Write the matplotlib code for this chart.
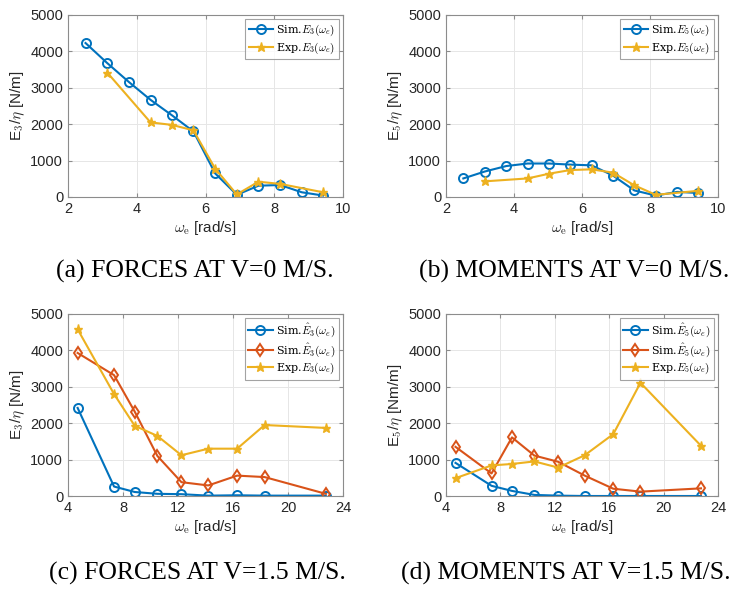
import numpy as np
import matplotlib
matplotlib.use('Agg')
import matplotlib.pyplot as plt

# MATLAB default colours
BLUE = '#0072BD'
RED = '#D95319'
YELLOW = '#EDB120'

# (a) forces, V=0
w_sim_0 = [2.51, 3.14, 3.77, 4.40, 5.03, 5.65, 6.28, 6.91, 7.54, 8.17, 8.80, 9.42]
e3_sim_0 = [4230, 3680, 3160, 2670, 2240, 1800, 650, 60, 310, 330, 130, 40]
w_exp_0 = [3.14, 4.40, 5.03, 5.65, 6.28, 6.91, 7.54, 8.17, 9.42]
e3_exp_0 = [3420, 2050, 1980, 1830, 780, 70, 420, 360, 130]

# (b) moments, V=0
e5_sim_0 = [510, 700, 850, 920, 920, 890, 870, 590, 180, 40, 140, 110]
e5_exp_0 = [430, 510, 640, 740, 760, 670, 320, 60, 170]

# (c) forces, V=1.5
w_15 = [4.7, 7.35, 8.85, 10.5, 12.25, 14.2, 16.3, 18.3, 22.75]
e3_hat_15 = [2420, 260, 110, 60, 50, 10, 20, 10, 10]
e3_tld_15 = [3930, 3320, 2320, 1100, 380, 290, 560, 520, 60]
e3_exp_15 = [4580, 2800, 1930, 1650, 1120, 1300, 1300, 1950, 1870]

# (d) moments, V=1.5
e5_hat_15 = [910, 280, 140, 30, 10, 0, 0, 0, 0]
e5_tld_15 = [1350, 620, 1610, 1110, 940, 560, 200, 120, 210]
e5_exp_15 = [490, 840, 880, 950, 780, 1120, 1700, 3110, 1380]

plt.rcParams['font.family'] = ['Liberation Sans', 'DejaVu Sans']
plt.rcParams['mathtext.fontset'] = 'cm'

fig = plt.figure(figsize=(7.41, 5.90), dpi=100)
W, H = 741.0, 590.0

def make_ax(x0, x1, y0, y1):
    # pixel box -> figure fraction
    return fig.add_axes([x0 / W, 1 - y1 / H, (x1 - x0) / W, (y1 - y0) / H])

def style(ax, xlim, xticks, ylabel):
    ax.set_xlim(*xlim)
    ax.set_ylim(0, 5000)
    ax.set_xticks(xticks)
    ax.set_yticks([0, 1000, 2000, 3000, 4000, 5000])
    ax.grid(True, color='#e6e6e6', linewidth=0.7)
    ax.set_axisbelow(True)
    for s in ax.spines.values():
        s.set_color('#8c8c8c')
        s.set_linewidth(0.8)
    ax.tick_params(labelsize=10.5, colors='#8c8c8c', labelcolor='#262626',
                   length=3, direction='in', top=True, right=True)
    ax.set_xlabel(r'$\omega_{\rm e}$ [rad/s]', fontsize=11, color='#262626', labelpad=2)
    ax.set_ylabel(ylabel, fontsize=11, color='#262626', labelpad=2)

def sim(ax, x, y, c, m, lab):
    ax.plot(x, y, '-', color=c, marker=m, markersize=6.5, markerfacecolor='none',
            markeredgewidth=1.4, linewidth=1.5, label=lab)

def exp(ax, x, y, lab):
    ax.plot(x, y, '-', color=YELLOW, marker='*', markersize=6.5, linewidth=1.5, label=lab)

def legend(ax):
    leg = ax.legend(loc='upper right', prop={'family': 'DejaVu Serif', 'size': 8},
                    fancybox=False, edgecolor='#8c8c8c', borderpad=0.3,
                    handlelength=2.2, labelspacing=0.2, handletextpad=0.3,
                    borderaxespad=0.4)
    leg.get_frame().set_linewidth(0.8)

# (a)
ax = make_ax(68, 343, 15, 197)
sim(ax, w_sim_0, e3_sim_0, BLUE, 'o', r'Sim.$E_3(\omega_e)$')
exp(ax, w_exp_0, e3_exp_0, r'Exp.$E_3(\omega_e)$')
style(ax, (2, 10), [2, 4, 6, 8, 10], r'E$_3$/$\eta$ [N/m]')
legend(ax)

# (b)
ax = make_ax(446, 718, 15, 197)
sim(ax, w_sim_0, e5_sim_0, BLUE, 'o', r'Sim.$E_5(\omega_e)$')
exp(ax, w_exp_0, e5_exp_0, r'Exp.$E_5(\omega_e)$')
style(ax, (2, 10), [2, 4, 6, 8, 10], r'E$_5$/$\eta$ [N/m]')
legend(ax)

# (c)
ax = make_ax(68, 343, 314, 496)
sim(ax, w_15, e3_hat_15, BLUE, 'o', r'Sim.$\hat{E}_3(\omega_e)$')
sim(ax, w_15, e3_tld_15, RED, 'd', r'Sim.$\hat{E}_3(\omega_e)$')
exp(ax, w_15, e3_exp_15, r'Exp.$E_3(\omega_e)$')
style(ax, (4, 24), [4, 8, 12, 16, 20, 24], r'E$_3$/$\eta$ [N/m]')
legend(ax)

# (d)
ax = make_ax(446, 718, 314, 496)
sim(ax, w_15, e5_hat_15, BLUE, 'o', r'Sim.$\hat{E}_5(\omega_e)$')
sim(ax, w_15, e5_tld_15, RED, 'd', r'Sim.$\hat{E}_5(\omega_e)$')
exp(ax, w_15, e5_exp_15, r'Exp.$E_5(\omega_e)$')
style(ax, (4, 24), [4, 8, 12, 16, 20, 24], r'E$_5$/$\eta$ [Nm/m]')
legend(ax)

# sub-captions
cap = dict(fontsize=18.5, family='Liberation Serif', ha='center', va='center')
fig.text(195 / W, 1 - 271 / H, '(a) FORCES AT V=0 M/S.', **cap)
fig.text(574 / W, 1 - 271 / H, '(b) MOMENTS AT V=0 M/S.', **cap)
fig.text(197 / W, 1 - 573 / H, '(c) FORCES AT V=1.5 M/S.', **cap)
fig.text(566 / W, 1 - 573 / H, '(d) MOMENTS AT V=1.5 M/S.', **cap)

fig.savefig('out.png', dpi=100)
